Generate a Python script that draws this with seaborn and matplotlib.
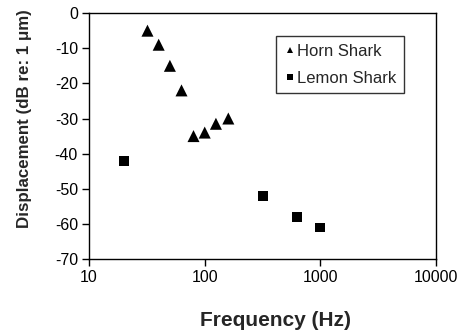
import seaborn as sns
import pandas as pd
import matplotlib.pyplot as plt
from matplotlib.ticker import FixedLocator, NullLocator

# values
horn_freq = [32, 40, 50, 63, 80, 100, 125, 160]
horn_disp = [-5, -9, -15, -22, -35, -34, -31.5, -30]
lemon_freq = [20, 320, 630, 1000]
lemon_disp = [-42, -52, -58, -61]

data = pd.concat([
    pd.DataFrame({"Frequency": horn_freq, "Displacement": horn_disp, "Species": "Horn Shark"}),
    pd.DataFrame({"Frequency": lemon_freq, "Displacement": lemon_disp, "Species": "Lemon Shark"}),
])

sns.set_style("white")
plt.rcParams['font.family'] = ['Liberation Sans', 'DejaVu Sans']
plt.rcParams['axes.unicode_minus'] = False

fig = plt.figure(figsize=(4.59, 3.36), dpi=100)
ax = fig.add_axes([0.194, 0.229, 0.756, 0.732])

sns.scatterplot(data=data, x="Frequency", y="Displacement", style="Species", size="Species",
                markers={"Horn Shark": "^", "Lemon Shark": "s"},
                sizes={"Horn Shark": 75, "Lemon Shark": 50},
                color="black", edgecolor="black", linewidth=0, ax=ax)

ax.set_xscale("log")
ax.set_xlim(10, 10000)
ax.set_ylim(-70, 0)
ax.xaxis.set_major_locator(FixedLocator([10, 100, 1000, 10000]))
ax.xaxis.set_minor_locator(NullLocator())
ax.set_xticklabels(["10", "100", "1000", "10000"])
ax.set_yticks(range(-70, 1, 10))

for sp in ax.spines.values():
    sp.set_color("black")
    sp.set_linewidth(1.0)
ax.tick_params(axis="both", direction="out", length=5, width=1, color="black",
               labelsize=11.5, labelcolor="black", bottom=True, left=True, pad=3)

ax.set_xlabel("Frequency (Hz)", fontsize=15, fontweight="bold")
ax.set_ylabel("Displacement (dB re: 1 \u03bcm)", fontsize=12.2, fontweight="bold")
ax.xaxis.set_label_coords(0.536, -0.212)
ax.yaxis.set_label_coords(-0.163, 0.57)

leg = ax.legend(loc="upper left", bbox_to_anchor=(0.54, 0.906), frameon=True,
                fancybox=False, edgecolor="black", fontsize=12, handletextpad=0.1,
                handlelength=0.7, borderpad=0.45, labelspacing=0.72, markerscale=0.55,
                borderaxespad=0)
leg.get_frame().set_linewidth(1.0)

fig.savefig("out.png", dpi=100)
